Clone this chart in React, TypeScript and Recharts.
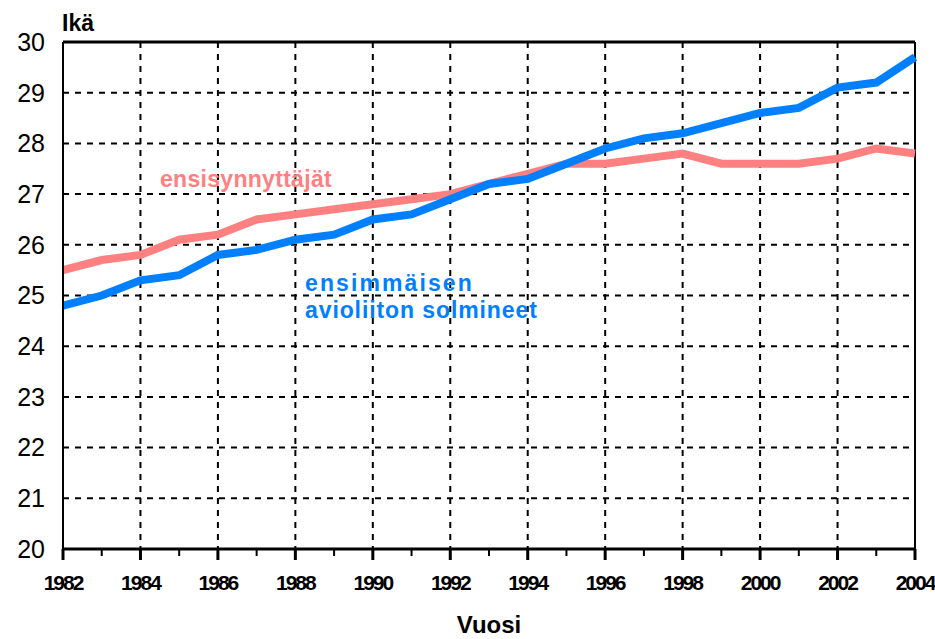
import React from 'react';
import {
  LineChart,
  Line,
  XAxis,
  YAxis,
  CartesianGrid,
  ReferenceLine,
  Customized,
  Label,
} from 'recharts';

// Years on the x axis
const years = [
  1982, 1983, 1984, 1985, 1986, 1987, 1988, 1989, 1990, 1991, 1992, 1993,
  1994, 1995, 1996, 1997, 1998, 1999, 2000, 2001, 2002, 2003, 2004,
];

// Mean age of first-time mothers
const ensisynnyttajat = [
  25.5, 25.7, 25.8, 26.1, 26.2, 26.5, 26.6, 26.7, 26.8, 26.9, 27.0, 27.2,
  27.4, 27.6, 27.6, 27.7, 27.8, 27.6, 27.6, 27.6, 27.7, 27.9, 27.8,
];

// Mean age at first marriage
const ensimmaisenAvioliiton = [
  24.8, 25.0, 25.3, 25.4, 25.8, 25.9, 26.1, 26.2, 26.5, 26.6, 26.9, 27.2,
  27.3, 27.6, 27.9, 28.1, 28.2, 28.4, 28.6, 28.7, 29.1, 29.2, 29.7,
];

const yTicks = [20, 21, 22, 23, 24, 25, 26, 27, 28, 29, 30];
const gridYears = [1984, 1986, 1988, 1990, 1992, 1994, 1996, 1998, 2000, 2002];
const gridAges = [21, 22, 23, 24, 25, 26, 27, 28, 29];

const data = years.map((year, i) => ({
  year,
  ensi: ensisynnyttajat[i],
  avio: ensimmaisenAvioliiton[i],
}));

const PINK = '#ff8080';
const BLUE = '#0080ff';
const font = "'Liberation Sans', Arial, sans-serif";

const YearTick = (props: any) => {
  const { x, y, payload } = props;
  const major = payload.value % 2 === 0;
  return (
    <g>
      <line x1={x} y1={y} x2={x} y2={y + (major ? 11 : 7)} stroke="#000" strokeWidth={major ? 3 : 2} />
      {major && (
        <text
          x={x}
          y={y + 41}
          textAnchor="middle"
          fontFamily={font}
          fontWeight="bold"
          fontSize={21}
          letterSpacing={-2}
          fill="#000"
        >
          {payload.value}
        </text>
      )}
    </g>
  );
};

const SeriesLabels = () => (
  <g fontFamily={font} fontWeight="bold" fontSize={23}>
    <text x={160} y={187} fill={PINK} letterSpacing={0.3}>
      ensisynnyttäjät
    </text>
    <text x={305} y={291} fill={BLUE} letterSpacing={2.1}>
      ensimmäisen
    </text>
    <text x={305} y={318} fill={BLUE} letterSpacing={0.9}>
      avioliiton solmineet
    </text>
    <text x={62} y={31} fill="#000" fontSize={23}>
      Ikä
    </text>
  </g>
);

const App: React.FC = () => {
  return (
    <div style={{ position: 'absolute', left: 0, top: 0, background: '#fff' }}>
      <LineChart
        width={935}
        height={639}
        data={data}
        margin={{ top: 42, right: 20, left: 0, bottom: 0 }}
      >
        <CartesianGrid
          stroke="#000"
          strokeWidth={2}
          strokeDasharray="6 6"
          verticalValues={gridYears}
          horizontalValues={gridAges}
        />
        <XAxis
          dataKey="year"
          type="number"
          domain={[1982, 2004]}
          ticks={years}
          interval={0}
          height={90}
          tickSize={0}
          tickMargin={0}
          tick={<YearTick />}
          axisLine={{ stroke: '#000', strokeWidth: 3 }}
          tickLine={false}
        >
          <Label
            value="Vuosi"
            position="insideBottom"
            offset={6}
            style={{ fontFamily: font, fontSize: 24, fontWeight: 'bold', fill: '#000' }}
          />
        </XAxis>
        <YAxis
          type="number"
          domain={[20, 30]}
          ticks={yTicks}
          interval={0}
          width={63}
          tickSize={0}
          tickMargin={18}
          tickLine={false}
          axisLine={{ stroke: '#000', strokeWidth: 2 }}
          tick={{ fill: '#000', fontSize: 25, fontFamily: font }}
        />
        <ReferenceLine y={30} stroke="#000" strokeWidth={3} />
        <ReferenceLine x={2004} stroke="#000" strokeWidth={2} />
        <Line
          type="linear"
          dataKey="ensi"
          stroke={PINK}
          strokeWidth={8}
          dot={false}
          isAnimationActive={false}
        />
        <Line
          type="linear"
          dataKey="avio"
          stroke={BLUE}
          strokeWidth={8}
          dot={false}
          isAnimationActive={false}
        />
        <Customized component={SeriesLabels} />
      </LineChart>
    </div>
  );
};

export default App;
